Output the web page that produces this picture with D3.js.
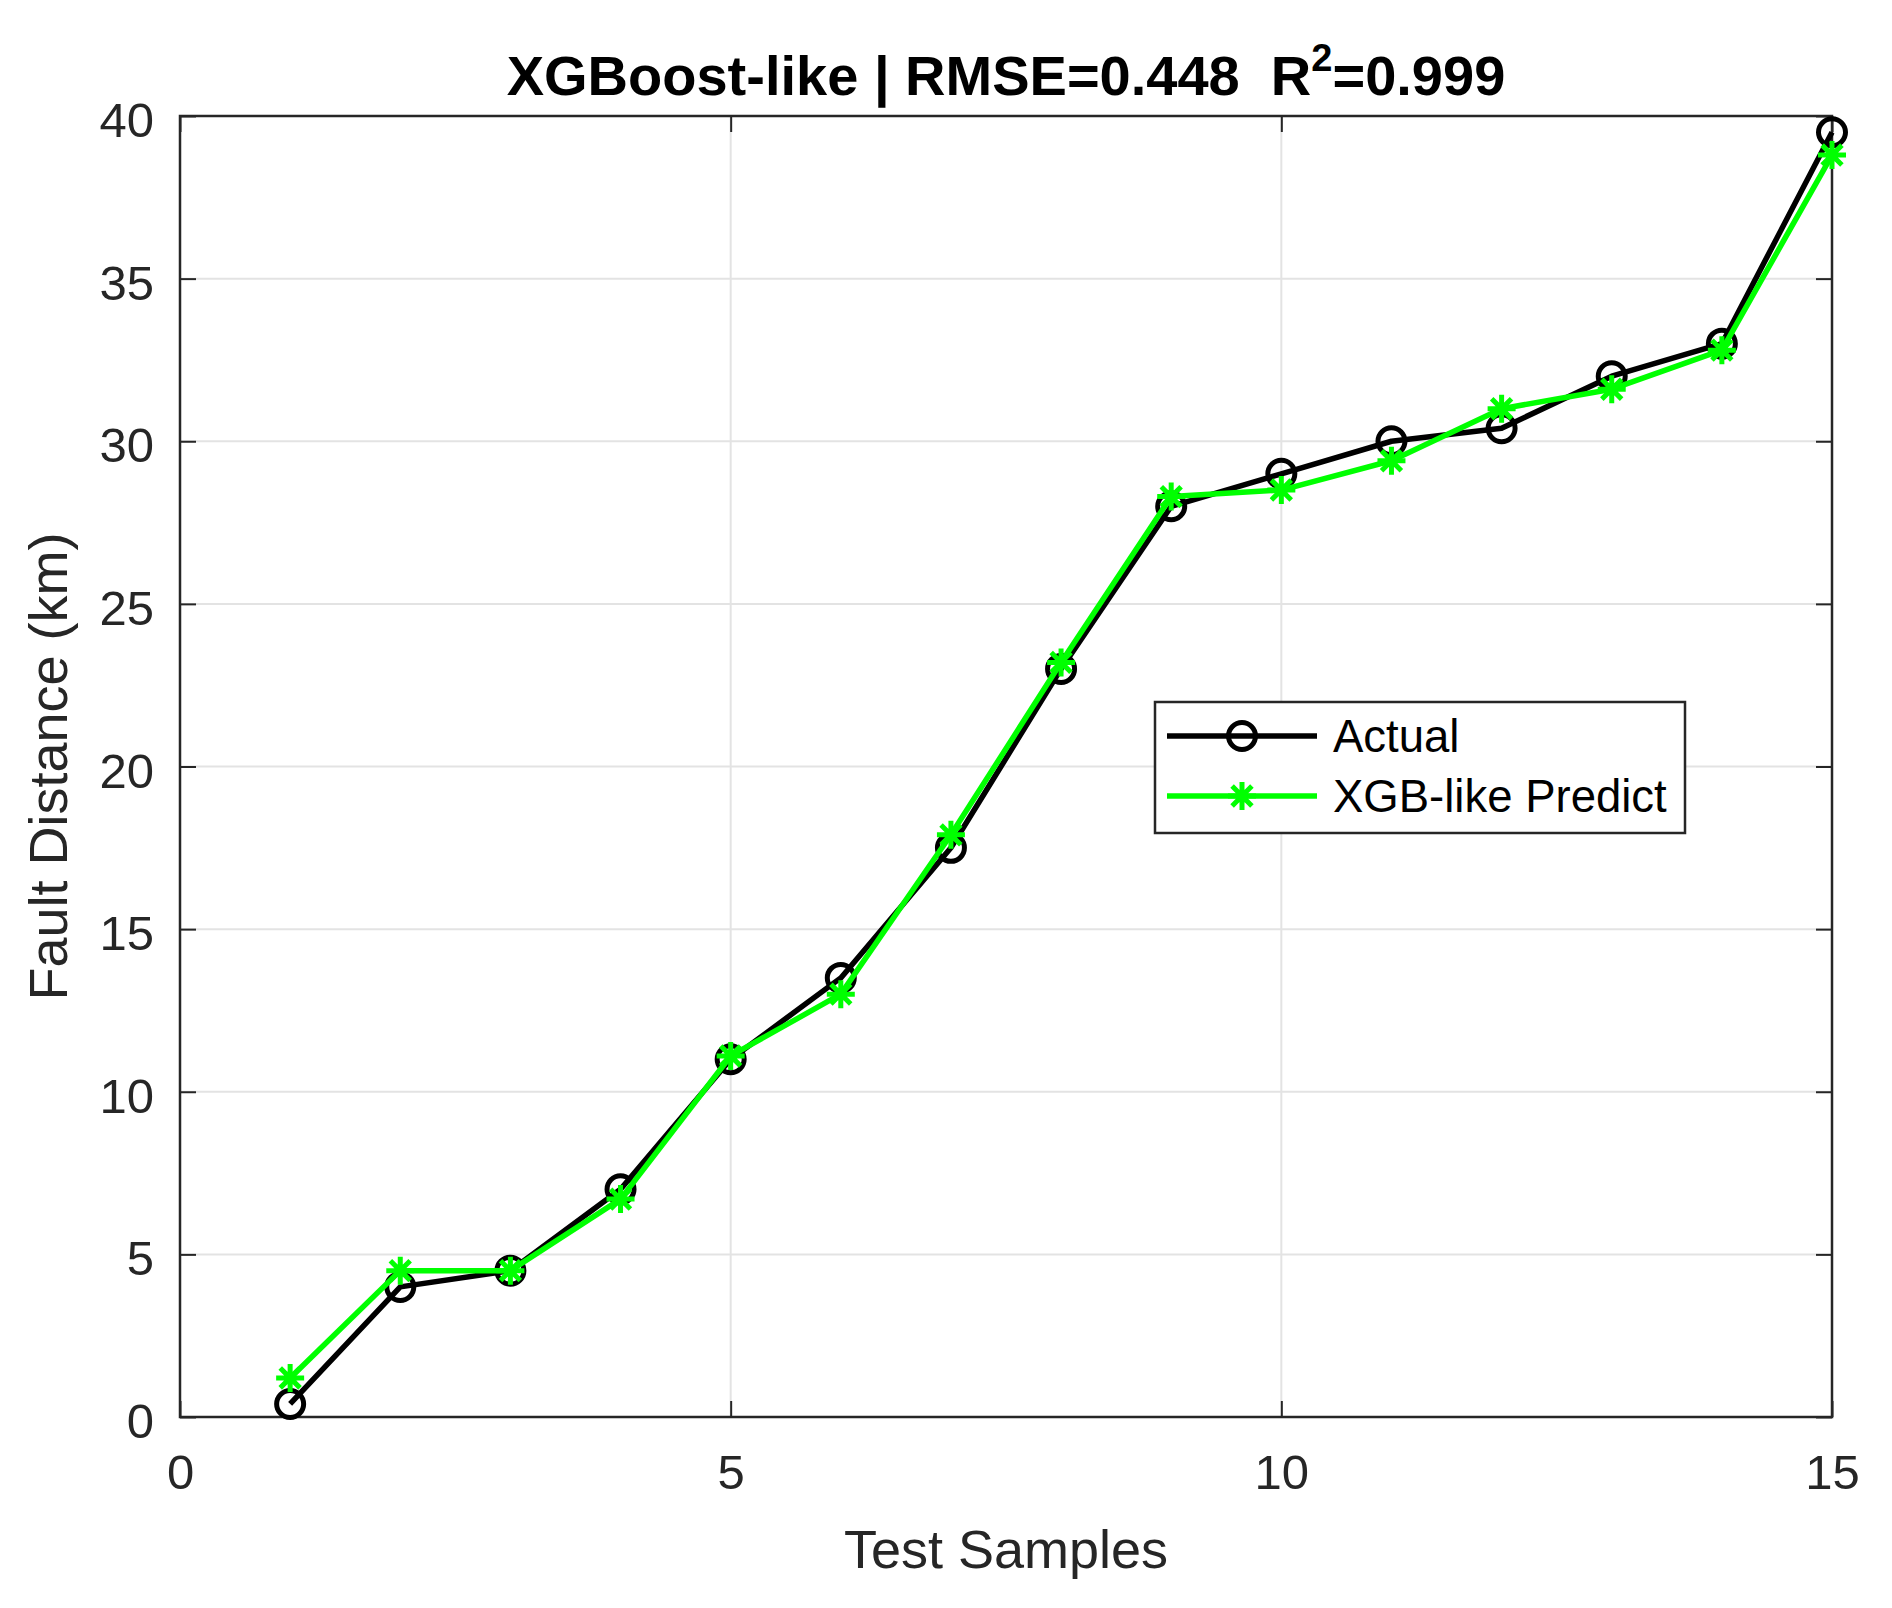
<!DOCTYPE html>
<html>
<head>
<meta charset="utf-8">
<script src="https://cdn.jsdelivr.net/npm/d3@7"></script>
<style>
  html, body { margin: 0; padding: 0; background: #ffffff; }
  svg { display: block; font-family: "Liberation Sans", Arial, Helvetica, sans-serif; }
</style>
</head>
<body>
<svg id="chart" width="1892" height="1608"></svg>
<script>
// ---- data ----
const samples = [1, 2, 3, 4, 5, 6, 7, 8, 9, 10, 11, 12, 13, 14, 15];
const actual = [0.4, 4.0, 4.5, 7.0, 11.0, 13.5, 17.5, 23.0, 28.0, 29.0, 30.0, 30.4, 32.0, 33.0, 39.5];
const predicted = [1.2, 4.5, 4.5, 6.7, 11.1, 13.0, 17.9, 23.2, 28.3, 28.5, 29.4, 31.0, 31.6, 32.8, 38.8];
const xTicks = [0, 5, 10, 15];
const yTicks = [0, 5, 10, 15, 20, 25, 30, 35, 40];
const seriesNames = ["Actual", "XGB-like Predict"];
const titleParts = ["XGBoost-like | RMSE=0.448\u00A0\u00A0R", "2", "=0.999"];
const xLabel = "Test Samples";
const yLabel = "Fault Distance (km)";

// ---- layout ----
const W = 1892, H = 1608;
const plot = { left: 180, right: 1832, top: 116, bottom: 1417 };
const axisColor = "#262626";
const gridColor = "#e3e3e3";
const tickFont = 49;

const svg = d3.select("#chart");
svg.append("rect").attr("width", W).attr("height", H).attr("fill", "#fff");

const x = d3.scaleLinear().domain([0, 15]).range([plot.left, plot.right]);
const y = d3.scaleLinear().domain([0, 40]).range([plot.bottom, plot.top]);

// gridlines
const grid = svg.append("g");
grid.selectAll("line.gx").data(xTicks.filter(t => t > 0 && t < 15)).join("line")
  .attr("x1", d => x(d)).attr("x2", d => x(d))
  .attr("y1", plot.top).attr("y2", plot.bottom)
  .attr("stroke", gridColor).attr("stroke-width", 2);
grid.selectAll("line.gy").data(yTicks.filter(t => t > 0 && t < 40)).join("line")
  .attr("x1", plot.left).attr("x2", plot.right)
  .attr("y1", d => y(d)).attr("y2", d => y(d))
  .attr("stroke", gridColor).attr("stroke-width", 2);

// axes (ticks inward on all four sides)
const tickLen = 16;
function styleAxis(g) {
  g.select(".domain").remove();
  g.selectAll(".tick line").attr("stroke", axisColor).attr("stroke-width", 2);
  g.selectAll(".tick text").attr("fill", axisColor).attr("font-size", tickFont)
    .attr("font-family", "Liberation Sans, Arial, sans-serif");
}
const xAxisB = svg.append("g").attr("transform", `translate(0,${plot.bottom})`)
  .call(d3.axisBottom(x).tickValues(xTicks).tickSize(-tickLen).tickPadding(37).tickFormat(d3.format("d")));
styleAxis(xAxisB);
const xAxisT = svg.append("g").attr("transform", `translate(0,${plot.top})`)
  .call(d3.axisTop(x).tickValues(xTicks).tickSize(-tickLen).tickFormat(""));
styleAxis(xAxisT);
const yAxisL = svg.append("g").attr("transform", `translate(${plot.left},0)`)
  .call(d3.axisLeft(y).tickValues(yTicks).tickSize(-tickLen).tickPadding(26).tickFormat(d3.format("d")));
styleAxis(yAxisL);
yAxisL.selectAll(".tick text").attr("dy", "0.42em");
const yAxisR = svg.append("g").attr("transform", `translate(${plot.right},0)`)
  .call(d3.axisRight(y).tickValues(yTicks).tickSize(-tickLen).tickFormat(""));
styleAxis(yAxisR);

// box
svg.append("rect")
  .attr("x", plot.left).attr("y", plot.top)
  .attr("width", plot.right - plot.left).attr("height", plot.bottom - plot.top)
  .attr("fill", "none").attr("stroke", axisColor).attr("stroke-width", 2.5);

// series
const actualData = samples.map((s, i) => [s, actual[i]]);
const predData = samples.map((s, i) => [s, predicted[i]]);
const line = d3.line().x(d => x(d[0])).y(d => y(d[1]));

const starPath = r => {
  const a = r * Math.SQRT1_2;
  return `M${-r},0L${r},0M0,${-r}L0,${r}M${-a},${-a}L${a},${a}M${-a},${a}L${a},${-a}`;
};

svg.append("path").datum(actualData).attr("d", line)
  .attr("fill", "none").attr("stroke", "#000").attr("stroke-width", 5.5).attr("stroke-linejoin", "round");
svg.append("g").selectAll("circle").data(actualData).join("circle")
  .attr("cx", d => x(d[0])).attr("cy", d => y(d[1])).attr("r", 13.5)
  .attr("fill", "none").attr("stroke", "#000").attr("stroke-width", 5);

svg.append("path").datum(predData).attr("d", line)
  .attr("fill", "none").attr("stroke", "#00ff00").attr("stroke-width", 5.5).attr("stroke-linejoin", "round");
svg.append("g").selectAll("path").data(predData).join("path")
  .attr("transform", d => `translate(${x(d[0])},${y(d[1])})`)
  .attr("d", starPath(14))
  .attr("fill", "none").attr("stroke", "#00ff00").attr("stroke-width", 5);

// title
const title = svg.append("text")
  .attr("x", (plot.left + plot.right) / 2).attr("y", 95)
  .attr("text-anchor", "middle").attr("font-weight", "bold").attr("font-size", 56)
  .attr("fill", "#000");
title.append("tspan").text(titleParts[0]);
title.append("tspan").attr("font-size", 38).attr("dy", -24).text(titleParts[1]);
title.append("tspan").attr("dy", 24).text(titleParts[2]);

// axis labels
svg.append("text")
  .attr("x", (plot.left + plot.right) / 2).attr("y", 1568)
  .attr("text-anchor", "middle").attr("font-size", 54).attr("fill", axisColor)
  .text(xLabel);
svg.append("text")
  .attr("transform", `translate(67,${(plot.top + plot.bottom) / 2}) rotate(-90)`)
  .attr("text-anchor", "middle").attr("font-size", 54).attr("fill", axisColor)
  .text(yLabel);

// legend
const leg = { x: 1155, y: 702, w: 530, h: 131 };
const lg = svg.append("g");
lg.append("rect").attr("x", leg.x).attr("y", leg.y).attr("width", leg.w).attr("height", leg.h)
  .attr("fill", "#fff").attr("stroke", axisColor).attr("stroke-width", 2.5);
const rows = [
  { name: seriesNames[0], color: "#000", marker: "circle", yy: leg.y + 34 },
  { name: seriesNames[1], color: "#00ff00", marker: "star", yy: leg.y + 94 }
];
rows.forEach(r => {
  lg.append("line").attr("x1", leg.x + 12).attr("x2", leg.x + 162)
    .attr("y1", r.yy).attr("y2", r.yy).attr("stroke", r.color).attr("stroke-width", 5.5);
  if (r.marker === "circle") {
    lg.append("circle").attr("cx", leg.x + 87).attr("cy", r.yy).attr("r", 13.5)
      .attr("fill", "none").attr("stroke", r.color).attr("stroke-width", 5);
  } else {
    lg.append("path").attr("transform", `translate(${leg.x + 87},${r.yy})`)
      .attr("d", starPath(14)).attr("fill", "none").attr("stroke", r.color).attr("stroke-width", 5);
  }
  lg.append("text").attr("x", leg.x + 178).attr("y", r.yy + 16)
    .attr("font-size", 45.5).attr("fill", "#000").text(r.name);
});
</script>
</body>
</html>
